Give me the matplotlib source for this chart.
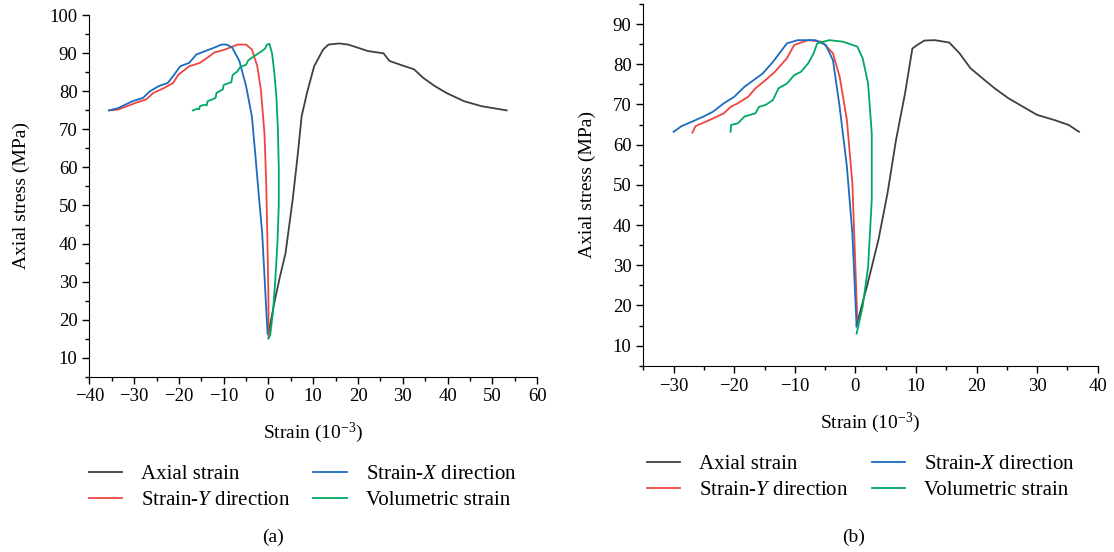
import matplotlib
matplotlib.use("Agg")
import matplotlib.pyplot as plt
from matplotlib.ticker import MultipleLocator

plt.rcParams["font.family"] = ["Liberation Serif", "DejaVu Serif"]
plt.rcParams["mathtext.fontset"] = "custom"
plt.rcParams["mathtext.rm"] = "Liberation Serif"
plt.rcParams["mathtext.it"] = "Liberation Serif:italic"

# ---- panel (a) ----
a_axial_x = [0.0, 1.4, 2.6, 3.8, 5.4, 6.5, 7.4, 8.6, 10.2, 12.2, 13.4, 15.8, 17.8, 19.9, 22.2, 25.7,
             27.0, 29.7, 32.5, 34.5, 37.0, 39.7, 43.7, 47.6, 53.2]
a_axial_y = [16.3, 25.0, 31.5, 37.4, 51.5, 63.0, 73.4, 79.6, 86.6, 91.0, 92.3, 92.6, 92.3, 91.5, 90.6, 90.0,
             88.0, 86.9, 85.8, 83.6, 81.5, 79.6, 77.4, 76.1, 75.0]

a_x_x = [-35.6, -33.6, -30.4, -28.0, -26.5, -24.5, -22.5, -21.3, -19.7, -17.7, -16.1, -14.1,
         -12.1, -10.5, -9.3, -8.1, -6.5, -5.0, -3.7, -2.9, -2.2, -1.4, -0.6, -0.2]
a_x_y = [75.0, 75.6, 77.4, 78.3, 80.0, 81.4, 82.2, 84.0, 86.6, 87.5, 89.7, 90.6,
         91.5, 92.3, 92.3, 91.5, 88.0, 81.4, 73.4, 62.9, 53.2, 42.7, 25.0, 16.3]

a_y_x = [-35.6, -33.6, -29.6, -27.3, -25.7, -23.3, -21.3, -20.1, -17.7, -15.3, -13.7, -12.1,
         -9.7, -6.9, -5.0, -3.7, -2.5, -1.7, -0.9, -0.5, -0.2, 0.0, 0.0]
a_y_y = [75.0, 75.2, 77.0, 77.9, 79.6, 80.9, 82.2, 84.4, 86.6, 87.5, 88.8, 90.2,
         91.0, 92.3, 92.3, 91.0, 86.6, 80.5, 69.0, 55.8, 38.3, 25.0, 15.4]

a_v_x = [-16.9, -16.0, -15.5, -15.3, -14.3, -13.8, -13.6, -12.3, -11.8, -11.6, -10.7, -10.2,
         -10.0, -8.8, -8.3, -8.0, -7.0, -6.3, -5.0, -4.5, -3.5, -2.5, -1.6, -0.8, -0.3, 0.2,
         0.8, 1.3, 1.8, 2.1, 2.3, 2.3, 2.0, 1.5, 1.0, 0.4, 0.0]
a_v_y = [75.0, 75.4, 75.3, 76.1, 76.5, 76.3, 77.4, 78.0, 78.3, 79.6, 80.2, 80.5,
         81.7, 82.2, 82.4, 84.3, 85.2, 86.4, 87.0, 88.2, 89.0, 89.8, 90.5, 91.2, 92.3, 92.5,
         90.0, 85.0, 78.0, 70.0, 60.0, 50.0, 40.0, 30.0, 22.0, 16.0, 15.0]

# ---- panel (b) ----
b_axial_x = [0.2, 1.9, 3.8, 5.3, 6.7, 8.2, 9.4, 10.2, 11.4, 13.1, 15.5, 17.2, 19.0, 21.3,
             23.0, 25.3, 27.7, 30.0, 32.9, 35.2, 36.9]
b_axial_y = [15.1, 24.7, 36.3, 47.9, 61.1, 72.8, 83.9, 84.8, 85.9, 86.0, 85.4, 82.7, 79.0, 76.1,
             74.0, 71.5, 69.4, 67.4, 66.1, 64.9, 63.2]

b_x_x = [-30.0, -28.7, -27.0, -25.2, -23.5, -21.7, -20.0, -18.3, -15.3, -13.6, -11.3, -9.5,
         -6.6, -4.9, -3.7, -2.6, -1.4, -0.5, 0.2]
b_x_y = [63.2, 64.6, 65.7, 66.9, 68.2, 70.3, 71.9, 74.4, 77.7, 80.6, 85.2, 86.0,
         86.0, 84.8, 81.0, 69.4, 54.5, 37.9, 14.7]

b_y_x = [-26.9, -26.4, -24.1, -21.7, -20.6, -19.4, -17.7, -16.5, -14.8, -13.3, -11.3, -10.1,
         -7.8, -5.5, -3.7, -2.6, -1.4, -0.5, 0.2, 0.3]
b_y_y = [63.0, 64.6, 66.1, 67.8, 69.4, 70.3, 71.9, 74.0, 76.1, 78.1, 81.5, 84.8,
         86.0, 85.6, 82.7, 76.9, 66.1, 50.4, 21.3, 16.4]

b_v_x = [-20.6, -20.5, -19.4, -18.3, -16.5, -15.9, -14.8, -13.6, -12.7, -11.3, -10.1, -9.0,
         -7.8, -6.9, -6.3, -4.3, -2.0, 0.3, 1.2, 2.1, 2.7, 2.7, 2.1, 1.2, 0.2]
b_v_y = [63.2, 64.9, 65.3, 67.0, 67.8, 69.4, 69.9, 71.1, 74.0, 75.2, 77.3, 78.1,
         80.2, 82.7, 85.2, 86.0, 85.6, 84.4, 81.5, 75.2, 62.8, 46.2, 29.6, 19.7, 13.0]

labels = ["Axial strain", "Strain-$\\it{Y}$ direction", "Strain-$\\it{X}$ direction", "Volumetric strain"]
colors = ["#404040", "#ee4540", "#1a6cc0", "#00a862"]


def draw_panel(ax, series, xlim, ylim, xticks, yticks, ypad, xpad):
    lines = []
    for (xs, ys), c, lab in zip(series, colors, labels):
        ln, = ax.plot(xs, ys, color=c, lw=1.3, label=lab)
        lines.append(ln)
    ax.set_xlim(*xlim)
    ax.set_ylim(*ylim)
    ax.set_xticks(xticks)
    ax.set_yticks(yticks)
    ax.xaxis.set_minor_locator(MultipleLocator(5))
    ax.yaxis.set_minor_locator(MultipleLocator(5))
    ax.spines["top"].set_visible(False)
    ax.spines["right"].set_visible(False)
    ax.tick_params(which="major", direction="out", length=5, width=1, labelsize=13.5)
    ax.tick_params(which="minor", direction="out", length=3, width=1)
    ax.set_xlabel("Strain $(10^{-3})$", fontsize=14, labelpad=xpad)
    ax.set_ylabel("Axial stress (MPa)", fontsize=14, labelpad=ypad)
    return lines


fig = plt.figure(figsize=(11.14, 5.52), dpi=100)
ax1 = fig.add_axes([0.0802, 0.3176, 0.402, 0.6547])
ax2 = fig.add_axes([0.5775, 0.3375, 0.4079, 0.6553])

l1 = draw_panel(ax1, [(a_axial_x, a_axial_y), (a_y_x, a_y_y), (a_x_x, a_x_y), (a_v_x, a_v_y)],
                (-40, 60), (5, 100), range(-40, 61, 10), range(10, 101, 10), 14, 11)
l2 = draw_panel(ax2, [(b_axial_x, b_axial_y), (b_y_x, b_y_y), (b_x_x, b_x_y), (b_v_x, b_v_y)],
                (-35, 40), (5, 95), range(-30, 41, 10), range(10, 91, 10), 12, 12)

leg_kw = dict(ncol=2, frameon=False, fontsize=15, handlelength=1.6, columnspacing=1.1,
              labelspacing=0.3, handletextpad=0.9, loc="upper left")
fig.legend(handles=l1, bbox_to_anchor=(0.063, 0.192), **leg_kw)
fig.legend(handles=l2, bbox_to_anchor=(0.564, 0.21), **leg_kw)

fig.text(0.245, 0.018, "(a)", ha="center", fontsize=14)
fig.text(0.766, 0.018, "(b)", ha="center", fontsize=14)

fig.savefig("out.png", dpi=100)
